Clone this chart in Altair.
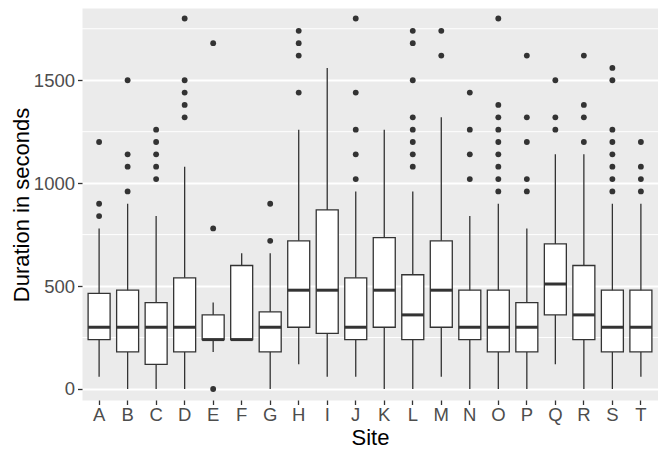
import altair as alt
import pandas as pd

sites = list("ABCDEFGHIJKLMNOPQRST")
whisker_lo = [60, 0, 0, 0, 180, 240, 0, 120, 60, 60, 0, 0, 60, 0, 0, 0, 120, 0, 0, 60]
q1 = [240, 180, 120, 180, 240, 240, 180, 300, 270, 240, 300, 240, 300, 240, 180, 180, 360, 240, 180, 180]
median = [300, 300, 300, 300, 240, 240, 300, 480, 480, 300, 480, 360, 480, 300, 300, 300, 510, 360, 300, 300]
q3 = [465, 480, 420, 540, 360, 600, 375, 720, 870, 540, 735, 555, 720, 480, 480, 420, 705, 600, 480, 480]
whisker_hi = [780, 900, 840, 1080, 420, 660, 660, 1260, 1560, 960, 1260, 960, 1320, 840, 900, 780, 1140, 1140, 900, 900]
outliers = [
    [840, 900, 1200],
    [960, 1080, 1140, 1500],
    [1020, 1080, 1140, 1200, 1260],
    [1320, 1380, 1440, 1500, 1800],
    [0, 780, 1680],
    [],
    [720, 900],
    [1440, 1620, 1680, 1740],
    [],
    [1020, 1140, 1260, 1440, 1800],
    [],
    [1080, 1140, 1200, 1260, 1320, 1500, 1680, 1740],
    [1620, 1740],
    [1020, 1140, 1260, 1440],
    [960, 1020, 1080, 1140, 1200, 1260, 1320, 1380, 1800],
    [960, 1020, 1200, 1320, 1620],
    [1260, 1320, 1500],
    [1200, 1320, 1380, 1620],
    [960, 1020, 1080, 1140, 1200, 1260, 1500, 1560],
    [960, 1020, 1080, 1200],
]
y_ticks = [0, 500, 1000, 1500]
minor_grid = [250, 750, 1250, 1750]

stats = pd.DataFrame({"Site": sites, "lo": whisker_lo, "q1": q1, "med": median,
                      "q3": q3, "hi": whisker_hi})
out_df = pd.DataFrame([(s, v) for s, vals in zip(sites, outliers) for v in vals],
                      columns=["Site", "Duration"])
minor_df = pd.DataFrame({"v": minor_grid})

INK = "#333333"
BOXW = 22

xscale = alt.Scale(domain=sites, paddingInner=0, paddingOuter=0.1)
yscale = alt.Scale(domain=[-53.5, 1851], nice=False, zero=False)
xaxis = alt.Axis(title="Site", labelAngle=0, labelPadding=1, bandPosition=0.5,
                 titleBaseline="alphabetic", titleY=44)
yaxis = alt.Axis(title="Duration in seconds", values=y_ticks, format="d",
                 labelPadding=3, titleBaseline="alphabetic", titleAngle=-90,
                 titleX=-53.5, titleY=196.5, titleAlign="center")

X = alt.X("Site:N", scale=xscale, axis=xaxis)

minor = alt.Chart(minor_df).mark_rule(color="white", strokeWidth=1).encode(
    y=alt.Y("v:Q", scale=yscale, axis=yaxis)
)

whisk = alt.Chart(stats).mark_rule(color=INK, strokeWidth=1.3).encode(
    x=X, y=alt.Y("lo:Q", scale=yscale, axis=yaxis), y2="hi:Q"
)

box = alt.Chart(stats).mark_bar(size=BOXW, fill="white", stroke=INK,
                                strokeWidth=1.3).encode(
    x=X, y=alt.Y("q1:Q", scale=yscale, axis=yaxis), y2="q3:Q"
)

med = alt.Chart(stats).mark_tick(size=BOXW, thickness=3, color=INK,
                                 opacity=1).encode(
    x=X, y=alt.Y("med:Q", scale=yscale, axis=yaxis)
)

pts = alt.Chart(out_df).mark_circle(size=34, color=INK, opacity=1).encode(
    x=X, y=alt.Y("Duration:Q", scale=yscale, axis=yaxis)
)

chart = alt.layer(minor, whisk, box, med, pts).properties(
    width=576, height=392,
    autosize=alt.AutoSizeParams(type="none"),
    padding={"left": 74, "top": 0, "right": 0, "bottom": 49},
).configure_view(
    fill="#EBEBEB", strokeOpacity=0
).configure_axis(
    labelFont="Liberation Sans", labelFontSize=18.5, labelColor="#4D4D4D",
    titleFont="Liberation Sans", titleFontSize=22, titleColor="black",
    titleFontWeight="normal", tickColor=INK, tickSize=4.5, tickWidth=1.3,
    domain=False, gridColor="white", gridWidth=2
)

chart.save("out.html", embed_options={"renderer": "svg", "actions": False})
